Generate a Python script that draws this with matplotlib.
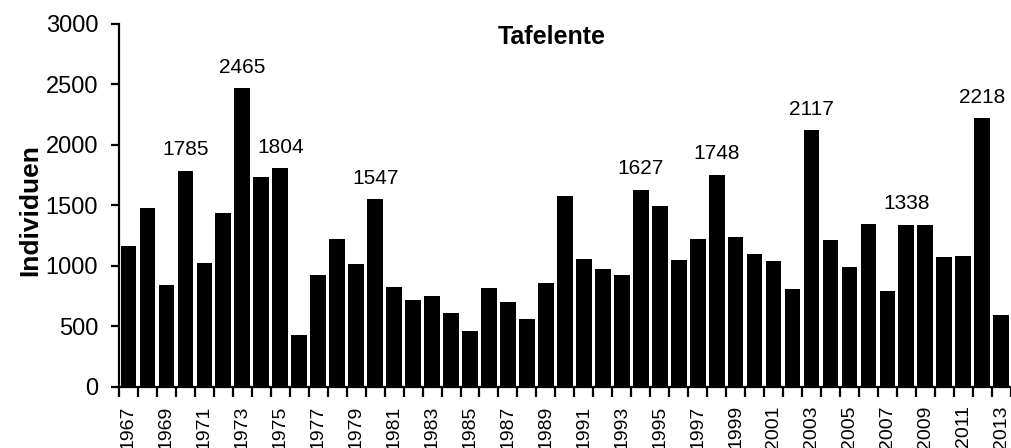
import numpy as np
import matplotlib.pyplot as plt

plt.rcParams['font.family'] = ['Liberation Sans', 'DejaVu Sans']

years = list(range(1967, 2014))
counts = [1165, 1476, 835, 1785, 1019, 1432, 2465, 1732, 1804, 425,
          920, 1220, 1011, 1547, 824, 711, 749, 609, 455, 810,
          697, 554, 857, 1575, 1052, 967, 920, 1627, 1490, 1042,
          1215, 1748, 1232, 1094, 1038, 802, 2117, 1207, 986, 1341,
          788, 1338, 1331, 1071, 1075, 2218, 587]
labelled = [1970, 1973, 1975, 1980, 1994, 1998, 2003, 2008, 2012]

fig = plt.figure(figsize=(10.12, 4.48), dpi=100)
ax = fig.add_axes([119/1012, 1 - 386.5/448, (1010.7 - 119)/1012, 363/448])

x = np.arange(len(years))
ax.bar(x, counts, width=0.83, color='black', edgecolor='none')

for yr, c in zip(years, counts):
    if yr in labelled:
        ax.annotate(str(c), (years.index(yr), c), xytext=(0, 11.2),
                    textcoords='offset points', ha='center', va='baseline',
                    fontsize=15)

ax.set_xlim(-0.5, len(years) - 0.5)
ax.set_ylim(0, 3000)
ax.set_yticks(range(0, 3001, 500))
ax.tick_params(axis='y', labelsize=17, length=6, width=1.6, pad=9)

# ticks at category edges, labels on every second year
ax.set_xticks(np.arange(-0.5, len(years)), [])
ax.tick_params(axis='x', which='major', length=7, width=1.6)
odd = [i for i, yr in enumerate(years) if yr % 2 == 1]
ax.set_xticks(odd, [str(years[i]) for i in odd], minor=True)
ax.tick_params(axis='x', which='minor', length=0, labelsize=14,
               rotation=90, pad=13.5)

for s in ['top', 'right']:
    ax.spines[s].set_visible(False)
for s in ['left', 'bottom']:
    ax.spines[s].set_linewidth(1.6)

fig.text(552/1012, 1 - 44/448, 'Tafelente', ha='center', va='baseline',
         fontsize=18, fontweight='bold')
fig.text(30/1012, 1 - 210/448, 'Individuen', ha='center', va='center',
         rotation=90, fontsize=19, fontweight='bold')

fig.savefig('out.png', dpi=100)
